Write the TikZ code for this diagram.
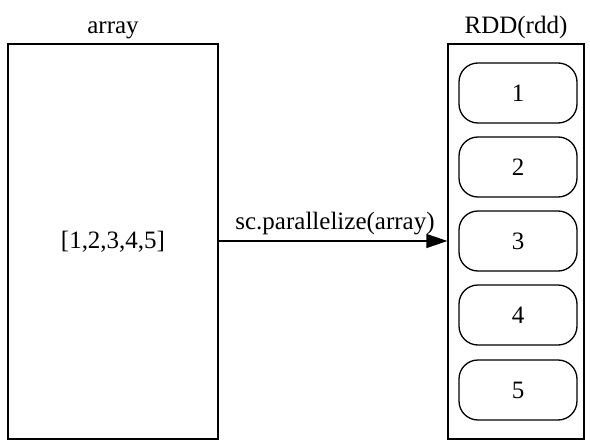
\documentclass[tikz,border=0pt]{standalone}
\usepackage{fontspec}
\setmainfont{Liberation Serif}
\usetikzlibrary{arrows.meta}
\begin{document}
\begin{tikzpicture}[x=1pt,y=-1pt,
  every node/.style={font=\fontsize{25}{30}\selectfont},
  outerbox/.style={draw,line width=1.3pt,minimum width=210pt,minimum height=395pt,inner sep=0pt},
  rddbox/.style={draw,line width=1.3pt,minimum width=136pt,minimum height=395pt,inner sep=0pt},
  part/.style={draw,line width=1.3pt,rounded corners=19pt,minimum width=118pt,minimum height=60pt,inner sep=0pt},
  lbl/.style={inner sep=0pt,anchor=base}]
\useasboundingbox (0,0) rectangle (590,442);
\node[outerbox] (arr) at (113,241.5) {[1,2,3,4,5]};
\node[lbl] (arrl) at (113,33) {array};
\node[rddbox] (rdd) at (516,241.5) {};
\node[lbl] (rddl) at (516,33) {RDD(rdd)};
\node[part] (p1) at (518,93) {1};
\node[part] (p2) at (518,167) {2};
\node[part] (p3) at (518,241) {3};
\node[part] (p4) at (518,315) {4};
\node[part] (p5) at (518,390) {5};
\draw[line width=1.3pt,-{Triangle[length=21pt,width=14pt]}] (arr.east |- p3) -- (rdd.west |- p3);
\node[lbl] (edgel) at (335,229) {sc.parallelize(array)};
\end{tikzpicture}
\end{document}
